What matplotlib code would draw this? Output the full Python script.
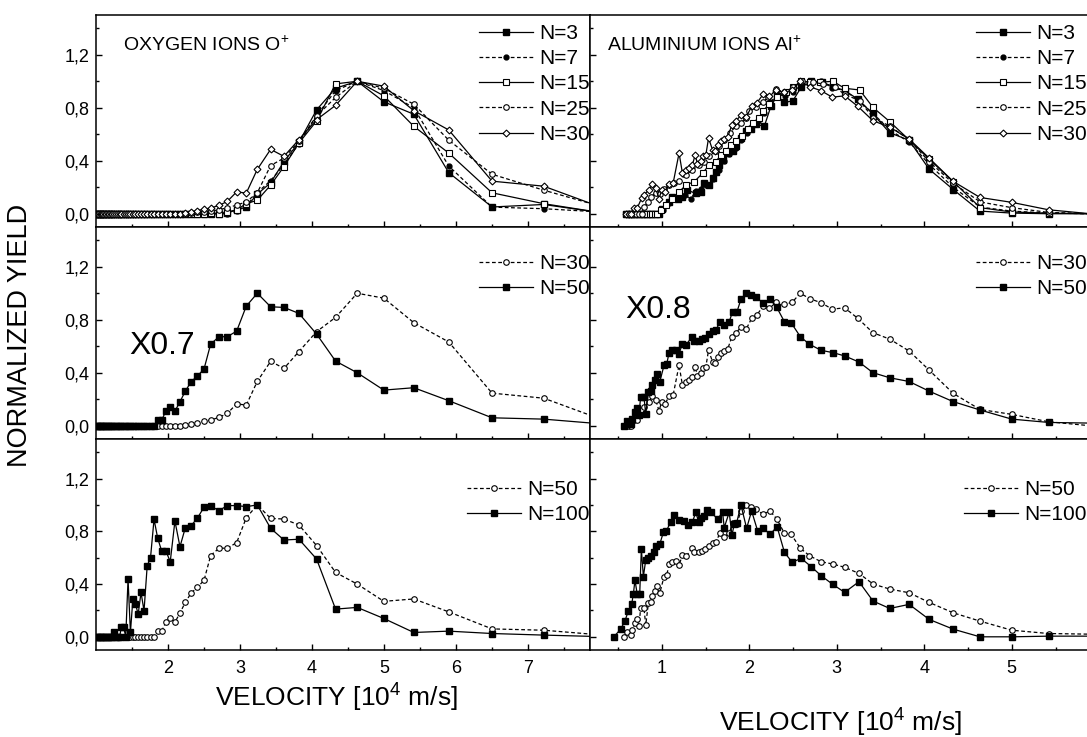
import matplotlib
matplotlib.use('Agg')
import matplotlib.pyplot as plt
from matplotlib.ticker import FixedLocator, FuncFormatter

plt.rcParams['font.family'] = ['Liberation Sans', 'DejaVu Sans']
plt.rcParams['mathtext.fontset'] = 'custom'
plt.rcParams['mathtext.rm'] = 'Liberation Sans'
plt.rcParams['mathtext.it'] = 'Liberation Sans:italic'
plt.rcParams['mathtext.bf'] = 'Liberation Sans:bold'

# ---------------- oxygen (common velocity grid) ----------------
ox_v = [1.000, 1.016, 1.032, 1.049, 1.066, 1.084, 1.102, 1.121, 1.141, 1.161,
        1.182, 1.204, 1.227, 1.250, 1.275, 1.300, 1.327, 1.354, 1.383, 1.413,
        1.445, 1.478, 1.512, 1.548, 1.586, 1.625, 1.667, 1.711, 1.757, 1.806,
        1.857, 1.912, 1.970, 2.031, 2.096, 2.166, 2.241, 2.321, 2.407, 2.500,
        2.592, 2.708, 2.823, 2.953, 3.087, 3.240, 3.425, 3.610, 3.818, 4.063,
        4.327, 4.627, 4.997, 5.413, 5.899, 6.500, 7.217, 8.110]

ox_n3 = [0, 0, 0, 0, 0, 0, 0, 0, 0, 0,
         0, 0, 0, 0, 0, 0, 0, 0, 0, 0,
         0, 0, 0, 0, 0, 0, 0, 0, 0, 0,
         0, 0, 0, 0, 0, 0, 0, 0, 0, 0,
         0, 0, 0.005, 0.03, 0.05, 0.148, 0.234, 0.394, 0.539, 0.784,
         0.947, 1.0, 0.845, 0.751, 0.31, 0.051, 0.07, 0.0]
ox_n7 = [0, 0, 0, 0, 0, 0, 0, 0, 0, 0,
         0, 0, 0, 0, 0, 0, 0, 0, 0, 0,
         0, 0, 0, 0, 0, 0, 0, 0, 0, 0,
         0, 0, 0, 0, 0, 0, 0, 0, 0, 0,
         0, 0, 0.0, 0.02, 0.06, 0.16, 0.25, 0.37, 0.53, 0.74,
         0.93, 1.0, 0.93, 0.80, 0.36, 0.05, 0.038, 0.01]
ox_n15 = [0, 0, 0, 0, 0, 0, 0, 0, 0, 0,
          0, 0, 0, 0, 0, 0, 0, 0, 0, 0,
          0, 0, 0, 0, 0, 0, 0, 0, 0, 0,
          0, 0, 0, 0, 0, 0, 0, 0, 0, 0,
          0.005, 0.0, 0.013, 0.03, 0.076, 0.102, 0.216, 0.356, 0.534, 0.70,
          0.98, 1.0, 0.89, 0.66, 0.458, 0.158, 0.076, 0.0]
ox_n25 = [0, 0, 0, 0, 0, 0, 0, 0, 0, 0,
          0, 0, 0, 0, 0, 0, 0, 0, 0, 0,
          0, 0, 0, 0, 0, 0, 0, 0, 0, 0,
          0, 0, 0, 0, 0, 0, 0.0, 0.005, 0.01, 0.015,
          0.02, 0.03, 0.045, 0.065, 0.09, 0.158, 0.364, 0.42, 0.547, 0.738,
          0.878, 1.0, 0.947, 0.827, 0.555, 0.298, 0.178, 0.04]
ox_n30 = [0, 0, 0, 0, 0, 0, 0, 0, 0, 0,
          0, 0, 0, 0, 0, 0, 0, 0, 0, 0,
          0, 0, 0, 0, 0, 0, 0, 0, 0, 0,
          0, 0, 0, 0, 0, 0, 0.005, 0.013, 0.023, 0.035,
          0.043, 0.063, 0.093, 0.165, 0.156, 0.335, 0.486, 0.433, 0.56, 0.71,
          0.818, 1.0, 0.963, 0.778, 0.632, 0.246, 0.208, 0.03]
ox_n50 = [0, 0, 0, 0, 0, 0, 0, 0, 0, 0,
          0, 0, 0, 0, 0, 0, 0, 0, 0, 0,
          0, 0, 0, 0, 0, 0, 0, 0, 0, 0,
          0.043, 0.043, 0.11, 0.143, 0.11, 0.181, 0.262, 0.332, 0.375, 0.428,
          0.616, 0.672, 0.672, 0.714, 0.903, 1.0, 0.898, 0.893, 0.848, 0.692,
          0.488, 0.40, 0.269, 0.287, 0.189, 0.06, 0.05, 0.01]
ox_n100 = [0, 0, 0, 0, 0, 0, 0, 0, 0, 0,
           0, 0, 0, 0.033, 0, 0, 0, 0.076, 0.076, 0,
           0.438, 0.033, 0.286, 0.248, 0.172, 0.337, 0.197, 0.539, 0.6, 0.891,
           0.747, 0.651, 0.651, 0.57, 0.878, 0.683, 0.828, 0.843, 0.899, 0.983,
           0.992, 0.957, 0.995, 0.995, 0.987, 1.0, 0.823, 0.734, 0.74, 0.59,
           0.21, 0.223, 0.139, 0.033, 0.043, 0.025, 0.013, 0.0]

# ---------------- aluminium ----------------
al_n3_v = [0.587, 0.62, 0.65, 0.68, 0.71, 0.74, 0.77, 0.80, 0.83, 0.86,
           0.89, 0.93, 0.97, 1.008, 1.084, 1.122, 1.18, 1.237, 1.294, 1.39,
           1.447, 1.485, 1.542, 1.581, 1.619, 1.657, 1.695, 1.753, 1.81, 1.848,
           1.905, 1.963, 2.02, 2.077, 2.173, 2.249, 2.314, 2.402, 2.498, 2.593,
           2.708, 2.83, 2.956, 3.09, 3.243, 3.415, 3.606, 3.827, 4.056, 4.331,
           4.637, 5.0, 5.42, 5.9]
al_n3 = [0, 0, 0, 0, 0, 0, 0, 0, 0, 0,
         0, 0, 0.0, 0.038, 0.089, 0.127, 0.115, 0.127, 0.178, 0.153,
         0.165, 0.229, 0.216, 0.267, 0.318, 0.369, 0.407, 0.458, 0.476, 0.509,
         0.573, 0.623, 0.636, 0.674, 0.662, 0.814, 0.885, 0.84, 0.852, 0.954,
         1.0, 0.992, 0.962, 0.929, 0.865, 0.751, 0.611, 0.555, 0.336, 0.183,
         0.02, 0.005, 0.0, 0.0]

al_n7_v = [0.587, 0.65, 0.71, 0.77, 0.83, 0.89, 0.95, 1.01, 1.084, 1.14,
           1.20, 1.26, 1.332, 1.39, 1.45, 1.51, 1.58, 1.65, 1.71, 1.77,
           1.848, 1.905, 1.97, 2.03, 2.10, 2.17, 2.24, 2.32, 2.41, 2.50,
           2.59, 2.71, 2.82, 2.95, 3.09, 3.24, 3.41, 3.61, 3.83, 4.06,
           4.33, 4.64, 5.0, 5.42, 5.9]
al_n7 = [0, 0, 0, 0, 0, 0, 0.0, 0.03, 0.08, 0.12,
         0.13, 0.14, 0.115, 0.17, 0.19, 0.22, 0.26, 0.33, 0.40, 0.45,
         0.50, 0.56, 0.61, 0.66, 0.70, 0.76, 0.84, 0.90, 0.89, 0.92,
         0.97, 0.99, 1.0, 0.95, 0.93, 0.86, 0.76, 0.63, 0.54, 0.37,
         0.20, 0.05, 0.02, 0.005, 0.0]

al_n15_v = [0.587, 0.62, 0.65, 0.68, 0.71, 0.74, 0.77, 0.80, 0.83, 0.86,
            0.89, 0.92, 0.95, 0.989, 1.046, 1.12, 1.199, 1.275, 1.371, 1.466,
            1.542, 1.619, 1.676, 1.734, 1.791, 1.848, 1.917, 1.982, 2.039, 2.116,
            2.161, 2.23, 2.32, 2.421, 2.498, 2.593, 2.689, 2.803, 2.956, 3.09,
            3.262, 3.415, 3.606, 3.823, 4.056, 4.331, 4.64, 5.0, 5.42, 5.9]
al_n15 = [0, 0, 0, 0, 0, 0, 0, 0, 0, 0,
          0, 0, 0, 0.025, 0.064, 0.11, 0.165, 0.216, 0.242, 0.305,
          0.369, 0.394, 0.445, 0.476, 0.522, 0.547, 0.585, 0.636, 0.687, 0.725,
          0.776, 0.832, 0.88, 0.916, 0.954, 1.0, 0.992, 0.992, 1.0, 0.947,
          0.934, 0.802, 0.695, 0.56, 0.412, 0.242, 0.046, 0.013, 0.005, 0.0]

al_n25_v = [0.587, 0.62, 0.65, 0.68, 0.71, 0.74, 0.77, 0.80, 0.84, 0.874,
            0.93, 0.98, 1.03, 1.084, 1.141, 1.2, 1.275, 1.35, 1.428, 1.485,
            1.542, 1.619, 1.657, 1.714, 1.78, 1.848, 1.905, 1.963, 2.001, 2.077,
            2.154, 2.211, 2.307, 2.402, 2.498, 2.605, 2.727, 2.841, 2.975, 3.09,
            3.262, 3.415, 3.606, 3.823, 4.056, 4.331, 4.64, 5.0, 5.42, 5.9]
al_n25 = [0, 0, 0, 0, 0, 0, 0, 0.05, 0.09, 0.127,
          0.16, 0.15, 0.19, 0.216, 0.229, 0.25, 0.293, 0.33, 0.369, 0.394,
          0.433, 0.476, 0.509, 0.56, 0.61, 0.662, 0.687, 0.725, 0.776, 0.802,
          0.84, 0.878, 0.941, 0.916, 0.954, 1.0, 0.992, 0.98, 0.954, 0.903,
          0.852, 0.725, 0.662, 0.56, 0.394, 0.229, 0.089, 0.046, 0.01, 0.0]

al_n30_v = [0.587, 0.62, 0.65, 0.683, 0.72, 0.77, 0.797, 0.855, 0.893, 0.931,
            0.969, 1.0, 1.038, 1.084, 1.13, 1.198, 1.236, 1.275, 1.313, 1.351,
            1.382, 1.408, 1.447, 1.477, 1.504, 1.535, 1.58, 1.611, 1.638, 1.676,
            1.714, 1.752, 1.802, 1.848, 1.905, 1.963, 2.027, 2.085, 2.161, 2.23,
            2.306, 2.402, 2.49, 2.582, 2.696, 2.822, 2.948, 3.09, 3.242, 3.414,
            3.605, 3.827, 4.056, 4.331, 4.637, 5.0, 5.42, 5.9]
al_n30 = [0, 0, 0, 0.043, 0.043, 0.118, 0.143, 0.181, 0.224, 0.194,
          0.113, 0.181, 0.164, 0.224, 0.231, 0.458, 0.307, 0.332, 0.345, 0.37,
          0.445, 0.377, 0.395, 0.433, 0.445, 0.571, 0.483, 0.47, 0.521, 0.546,
          0.566, 0.576, 0.672, 0.702, 0.742, 0.727, 0.81, 0.835, 0.903, 0.886,
          0.931, 0.916, 0.931, 1.0, 0.958, 0.928, 0.88, 0.89, 0.81, 0.702,
          0.654, 0.564, 0.42, 0.244, 0.123, 0.086, 0.03, 0.0]

al_n50_v = [0.568, 0.606, 0.645, 0.663, 0.694, 0.72, 0.74, 0.759, 0.797, 0.817,
            0.847, 0.874, 0.893, 0.924, 0.95, 0.977, 1.026, 1.057, 1.084, 1.122,
            1.168, 1.198, 1.236, 1.282, 1.344, 1.37, 1.42, 1.458, 1.496, 1.542,
            1.58, 1.619, 1.665, 1.714, 1.771, 1.809, 1.857, 1.905, 1.963, 2.02,
            2.077, 2.154, 2.238, 2.314, 2.402, 2.479, 2.585, 2.688, 2.822, 2.956,
            3.09, 3.254, 3.415, 3.606, 3.827, 4.056, 4.331, 4.637, 5.0, 5.42,
            5.9]
al_n50 = [0.0, 0.033, 0.013, 0.051, 0.101, 0.134, 0.084, 0.22, 0.215, 0.089,
          0.253, 0.261, 0.311, 0.347, 0.387, 0.33, 0.456, 0.468, 0.55, 0.569,
          0.575, 0.544, 0.62, 0.613, 0.671, 0.641, 0.641, 0.651, 0.664, 0.691,
          0.714, 0.721, 0.785, 0.76, 0.785, 0.861, 0.855, 0.954, 1.0, 0.987,
          0.97, 0.929, 0.954, 0.894, 0.785, 0.777, 0.671, 0.615, 0.569, 0.552,
          0.527, 0.481, 0.4, 0.362, 0.334, 0.261, 0.182, 0.119, 0.05, 0.025,
          0.02]

al_n100_v = [0.453, 0.53, 0.579, 0.617, 0.656, 0.675, 0.694, 0.72, 0.748, 0.767,
             0.79, 0.817, 0.847, 0.874, 0.912, 0.931, 0.977, 1.019, 1.053, 1.103,
             1.141, 1.198, 1.256, 1.305, 1.351, 1.39, 1.42, 1.447, 1.485, 1.512,
             1.562, 1.638, 1.695, 1.714, 1.771, 1.802, 1.829, 1.855, 1.905, 1.97,
             2.027, 2.096, 2.161, 2.238, 2.318, 2.402, 2.49, 2.593, 2.708, 2.822,
             2.956, 3.09, 3.254, 3.415, 3.606, 3.827, 4.056, 4.331, 4.637, 5.0,
             5.42, 5.9]
al_n100 = [0.0, 0.058, 0.119, 0.195, 0.246, 0.322, 0.43, 0.322, 0.322, 0.666,
           0.456, 0.582, 0.6, 0.615, 0.641, 0.691, 0.702, 0.793, 0.803, 0.873,
           0.924, 0.886, 0.879, 0.848, 0.873, 0.944, 0.873, 0.904, 0.919, 0.962,
           0.944, 0.894, 0.944, 0.828, 0.944, 0.772, 0.853, 0.861, 1.0, 0.823,
           0.954, 0.803, 0.823, 0.777, 0.835, 0.641, 0.565, 0.595, 0.532, 0.463,
           0.397, 0.337, 0.418, 0.271, 0.215, 0.246, 0.132, 0.058, 0.0, 0.0,
           0.005, 0.005]

# marker / line styles
dash = (0, (3, 2))
filled_sq = dict(ls='-', marker='s', ms=4, mfc='black', mec='black')
filled_dot = dict(ls=dash, marker='o', ms=3.5, mfc='black', mec='black')
open_sq = dict(ls='-', marker='s', ms=4, mfc='white', mec='black', mew=0.8)
open_dot = dict(ls=dash, marker='o', ms=4, mfc='white', mec='black', mew=0.8)
open_dia = dict(ls='-', marker='D', ms=3.5, mfc='white', mec='black', mew=0.8)

fig = plt.figure(figsize=(10.87, 7.37), dpi=100)

col_x = [96 / 1087, 590 / 1087]
col_w = [494 / 1087, 497 / 1087]
row_y = [1 - 227 / 737, 1 - 439 / 737, 1 - 650 / 737]
row_h = [212 / 737, 212 / 737, 211 / 737]

comma = FuncFormatter(lambda v, p: f'{v:.1f}'.replace('.', ','))

axes = {}
for r in range(3):
    for c in range(2):
        ax = fig.add_axes([col_x[c], row_y[r], col_w[c], row_h[r]])
        if c == 0:
            ax.set_xlim(1.0, 7.86)
            ax.xaxis.set_major_locator(FixedLocator([2, 3, 4, 5, 6, 7]))
            ax.xaxis.set_minor_locator(FixedLocator([1.5, 2.5, 3.5, 4.5, 5.5, 6.5, 7.5]))
        else:
            ax.set_xlim(0.18, 5.86)
            ax.xaxis.set_major_locator(FixedLocator([1, 2, 3, 4, 5]))
            ax.xaxis.set_minor_locator(FixedLocator([0.5, 1.5, 2.5, 3.5, 4.5, 5.5]))
            ax.spines['right'].set_visible(False)
        ax.set_ylim(-0.1, 1.5)
        ax.yaxis.set_major_locator(FixedLocator([0.0, 0.4, 0.8, 1.2]))
        ax.yaxis.set_minor_locator(FixedLocator([0.2, 0.6, 1.0, 1.4]))
        ax.yaxis.set_major_formatter(comma)
        ax.tick_params(which='both', direction='in', top=False, right=False,
                       labelsize=13, width=1.0)
        ax.tick_params(which='major', length=4)
        ax.tick_params(which='minor', length=2.5)
        ax.tick_params(axis='x', pad=7)
        ax.tick_params(axis='y', pad=5)
        ax.tick_params(labelbottom=(r == 2), labelleft=(c == 0))
        for s in ax.spines.values():
            s.set_linewidth(1.1)
        axes[(r, c)] = ax

lw = 0.9
leg_kw = dict(loc='upper right', frameon=False, fontsize=15, numpoints=1,
              handlelength=2.6, handletextpad=0.3, labelspacing=0.3,
              borderpad=0.0, borderaxespad=0.0)

# top row
ax = axes[(0, 0)]
ax.plot(ox_v, ox_n3, color='black', lw=lw, label='N=3', **filled_sq)
ax.plot(ox_v, ox_n7, color='black', lw=lw, label='N=7', **filled_dot)
ax.plot(ox_v, ox_n15, color='black', lw=lw, label='N=15', **open_sq)
ax.plot(ox_v, ox_n25, color='black', lw=lw, label='N=25', **open_dot)
ax.plot(ox_v, ox_n30, color='black', lw=lw, label='N=30', **open_dia)
ax.legend(bbox_to_anchor=(1.0, 0.958), **leg_kw)
ax.text(0.055, 0.858, 'OXYGEN IONS O$^{+}$', transform=ax.transAxes,
        fontsize=14, va='center', ha='left')

ax = axes[(0, 1)]
ax.plot(al_n3_v, al_n3, color='black', lw=lw, label='N=3', **filled_sq)
ax.plot(al_n7_v, al_n7, color='black', lw=lw, label='N=7', **filled_dot)
ax.plot(al_n15_v, al_n15, color='black', lw=lw, label='N=15', **open_sq)
ax.plot(al_n25_v, al_n25, color='black', lw=lw, label='N=25', **open_dot)
ax.plot(al_n30_v, al_n30, color='black', lw=lw, label='N=30', **open_dia)
ax.legend(bbox_to_anchor=(1.0, 0.958), **leg_kw)
ax.text(0.034, 0.858, 'ALUMINIUM IONS Al$^{+}$', transform=ax.transAxes,
        fontsize=14, va='center', ha='left')

# middle row
ax = axes[(1, 0)]
ax.plot(ox_v, ox_n30, color='black', lw=lw, label='N=30', **open_dot)
ax.plot(ox_v, ox_n50, color='black', lw=lw, label='N=50', **filled_sq)
ax.legend(bbox_to_anchor=(1.0, 0.873), **leg_kw)
ax.text(0.067, 0.44, 'X0.7', transform=ax.transAxes, fontsize=23,
        va='center', ha='left')

ax = axes[(1, 1)]
ax.plot(al_n30_v, al_n30, color='black', lw=lw, label='N=30', **open_dot)
ax.plot(al_n50_v, al_n50, color='black', lw=lw, label='N=50', **filled_sq)
ax.legend(bbox_to_anchor=(1.0, 0.873), **leg_kw)
ax.text(0.07, 0.61, 'X0.8', transform=ax.transAxes, fontsize=23,
        va='center', ha='left')

# bottom row
ax = axes[(2, 0)]
ax.plot(ox_v, ox_n50, color='black', lw=lw, label='N=50', **open_dot)
ax.plot(ox_v, ox_n100, color='black', lw=lw, label='N=100', **filled_sq)
ax.legend(bbox_to_anchor=(1.0, 0.806), **leg_kw)

ax = axes[(2, 1)]
ax.plot(al_n50_v, al_n50, color='black', lw=lw, label='N=50', **open_dot)
ax.plot(al_n100_v, al_n100, color='black', lw=lw, label='N=100', **filled_sq)
ax.legend(bbox_to_anchor=(1.0, 0.806), **leg_kw)

fig.text(0.018, 0.545, 'NORMALIZED YIELD', rotation=90, ha='center',
         va='center', fontsize=19.5)
fig.text(0.31, 0.053, 'VELOCITY [10$^{4}$ m/s]', ha='center', va='center',
         fontsize=19)
fig.text(0.773, 0.019, 'VELOCITY [10$^{4}$ m/s]', ha='center', va='center',
         fontsize=19)

fig.savefig('out.png', dpi=100)
